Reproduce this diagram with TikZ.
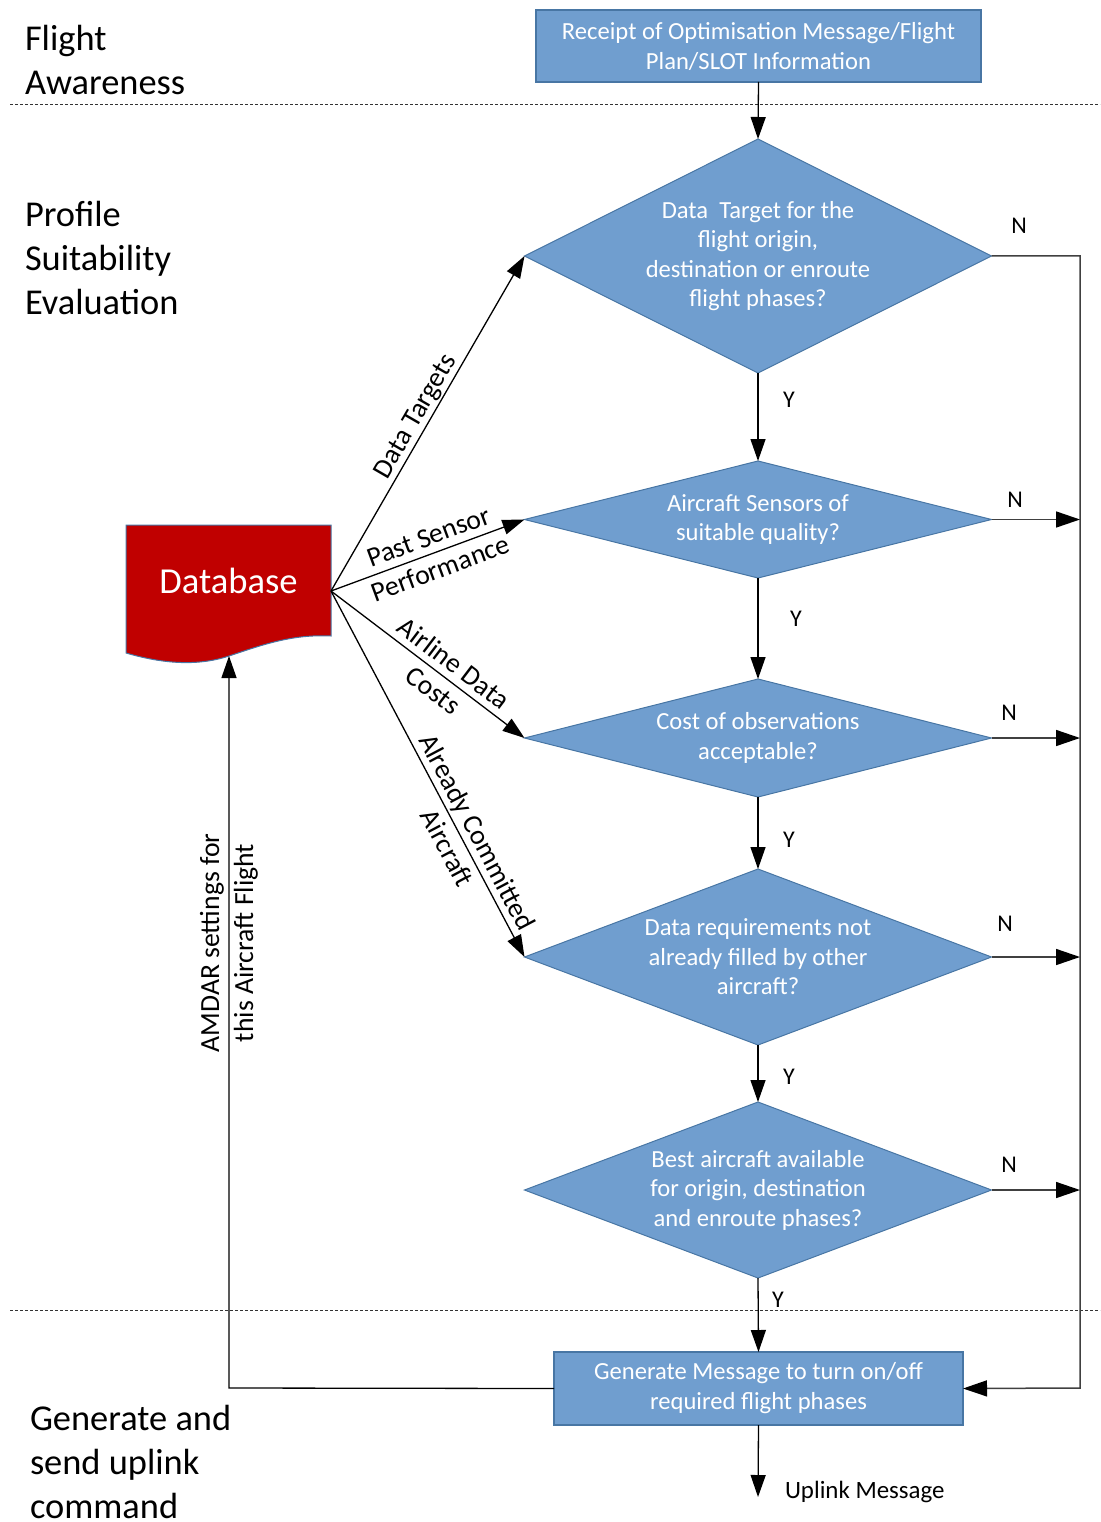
\documentclass[tikz,border=0pt]{standalone}
\usepackage{fontspec}
\setmainfont{Carlito}
\usetikzlibrary{shapes.geometric,arrows.meta}
\definecolor{boxblue}{RGB}{112,158,207}
\definecolor{boxedge}{RGB}{72,118,164}
\definecolor{dbred}{RGB}{192,0,0}
\definecolor{linegray}{RGB}{64,64,64}
\begin{document}
\begin{tikzpicture}[x=1pt,y=-1pt,
  every node/.style={inner sep=0pt, outer sep=0pt},
  procbox/.style={rectangle, draw=boxedge, fill=boxblue, line width=1.5pt, text=white,
    font=\fontsize{24.6}{30}\selectfont, align=center},
  decbox/.style={diamond, draw=boxedge, fill=boxblue, line width=1pt},
  dectext/.style={text=white, font=\fontsize{24.6}{29.5}\selectfont, align=center},
  arr/.style={draw=black, line width=1.3pt, -{Triangle[length=22pt,width=15pt]}},
  arrg/.style={draw=linegray, line width=1.5pt, -{Triangle[length=24pt,width=16pt,color=black]}},
  sepline/.style={draw=black!80, line width=0.9pt, dash pattern=on 3pt off 2pt},
  edgelab/.style={font=\fontsize{27.7}{34}\selectfont, align=center},
  yn/.style={font=\fontsize{24}{29}\selectfont},
  phase/.style={font=\fontsize{36.4}{43.6}\selectfont, align=left, anchor=west}
]
\useasboundingbox (0,0) rectangle (1100,1522);

% section separators
\draw[sepline] (10,104) -- (1100,104);
\draw[sepline] (10,1310) -- (1100,1310);

% phase labels
\node[phase] (ph1) at (25,60) {Flight\\Awareness};
\node[phase] (ph2) at (25,258) {Profile\\Suitability\\Evaluation};
\node[phase] (ph3) at (30,1462) {Generate and\\send uplink\\command};

% process boxes
\node[procbox, minimum width=445pt, minimum height=72pt] (top) at (758.5,46)
  {Receipt of Optimisation Message/Flight\\Plan/SLOT Information};
\node[procbox, minimum width=409pt, minimum height=73pt] (gen) at (758.5,1388.5)
  {Generate Message to turn on/off\\required flight phases};

% decisions
\node[decbox, minimum width=467pt, minimum height=234pt,
  label={[dectext]center:{Data\ \ Target for the\\flight origin,\\destination or enroute\\flight phases?}}] (d1) at (758,256) {};
\node[decbox, minimum width=467pt, minimum height=117pt,
  label={[dectext]center:{Aircraft Sensors of\\suitable quality?}}] (d2) at (758,519.5) {};
\node[decbox, minimum width=467pt, minimum height=118pt,
  label={[dectext]center:{Cost of observations\\acceptable?}}] (d3) at (758,738) {};
\node[decbox, minimum width=467pt, minimum height=176pt,
  label={[dectext]center:{Data requirements not\\already filled by other\\aircraft?}}] (d4) at (758,957) {};
\node[decbox, minimum width=467pt, minimum height=176pt,
  label={[dectext]center:{Best aircraft available\\for origin, destination\\and enroute phases?}}] (d5) at (758,1190) {};

% database
\path[fill=dbred, draw=boxedge, line width=1pt] (126,525) -- (331,525) -- (331,636)
  .. controls (292,634) and (262,645) .. (229,656)
  .. controls (196,667) and (160,663) .. (126,653) -- cycle;
\node[minimum width=205pt, minimum height=132pt] (db) at (228.5,591) {};
\node[text=white, font=\fontsize{36.6}{44}\selectfont] (dbtext) at (228.5,581) {Database};
\coordinate (dbbot) at (229,656);

% main flow
\draw[arr] (top.south) -- (d1.north);
\draw[arr] (d1.south) -- (d2.north);
\draw[arr] (d2.south) -- (d3.north);
\draw[arr] (d3.south) -- (d4.north);
\draw[arr] (d4.south) -- (d5.north);
\draw[arr] (d5.south) -- (gen.north);
\coordinate (uplink) at (758,1497);
\draw[arr] (gen.south) -- (uplink);
\node[yn, anchor=west, font=\fontsize{24.9}{30}\selectfont] (uplab) at (785,1492) {Uplink Message};

\node[yn] (y1) at (789,400) {Y};
\node[yn] (y2) at (796,619) {Y};
\node[yn] (y3) at (789,840) {Y};
\node[yn] (y4) at (789,1077) {Y};
\node[yn] (y5) at (778,1300) {Y};

% no-branches
\coordinate (rtop) at (1080,256);
\coordinate (rbot) at (1080,1388);
\draw[arrg] (d1.east) -- (rtop) -- (rbot) -- (gen.east);
\draw[arrg] (d2.east) -- (d2.east -| rtop);
\draw[arrg] (d3.east) -- (d3.east -| rtop);
\draw[arrg] (d4.east) -- (d4.east -| rtop);
\draw[arrg] (d5.east) -- (d5.east -| rtop);
\node[yn] (n1) at (1019,226) {N};
\node[yn] (n2) at (1015,500) {N};
\node[yn] (n3) at (1009,713) {N};
\node[yn] (n4) at (1005,924) {N};
\node[yn] (n5) at (1009,1165) {N};

% database inputs
\draw[arr] (db.east) -- (d1.west) node[edgelab, sloped, above, inner sep=2pt, pos=0.5] (l1) {Data Targets};
\draw[arr] (db.east) -- (d2.west) node[edgelab, sloped, pos=0.536] (l2) {Past Sensor\\Performance};
\draw[arr] (db.east) -- (d3.west) node[edgelab, sloped, pos=0.583] (l3) {Airline Data\\Costs};
\draw[arr] (db.east) -- (d4.west) node[edgelab, sloped, pos=0.68] (l4) {Already Committed\\Aircraft};

% feedback
\coordinate (fb) at (229,1388);
\draw[arr] (gen.west) -- (fb) -- (dbbot);
\node[edgelab, rotate=90] (l5) at (229,943) {AMDAR settings for\\this Aircraft Flight};
\end{tikzpicture}
\end{document}
